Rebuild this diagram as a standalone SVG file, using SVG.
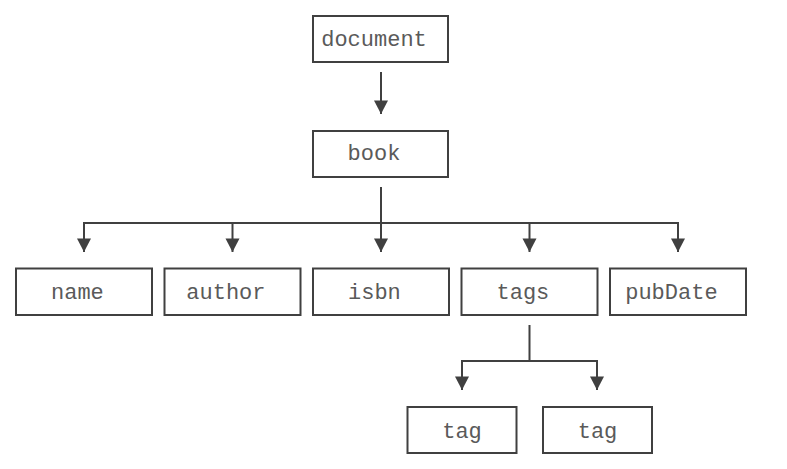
<svg xmlns="http://www.w3.org/2000/svg" width="787" height="469" viewBox="0 0 787 469">
<style>
.box{fill:#fff;stroke:#404040;stroke-width:2}
.lbl{font-family:"Liberation Mono","Courier New",monospace;font-size:22px;fill:#5a5a5a;text-anchor:middle}
.conn{fill:none;stroke:#404040;stroke-width:2}
</style>
<defs>
<marker id="arr" markerUnits="userSpaceOnUse" markerWidth="16" markerHeight="16" refX="13.5" refY="7" orient="auto" overflow="visible">
<path d="M0,0 L13.5,7 L0,14 z" fill="#404040"/>
</marker>
</defs>
<rect width="787" height="469" fill="#fff"/>
<g id="connectors">
<path class="conn" d="M381,72 V114" marker-end="url(#arr)"/>
<path class="conn" d="M381,187 V223 M84,223 H678"/>
<path class="conn" d="M84,222 V252" marker-end="url(#arr)"/>
<path class="conn" d="M232.5,223 V252" marker-end="url(#arr)"/>
<path class="conn" d="M381,223 V252" marker-end="url(#arr)"/>
<path class="conn" d="M529.5,223 V252" marker-end="url(#arr)"/>
<path class="conn" d="M678,222 V252" marker-end="url(#arr)"/>
<path class="conn" d="M529.5,325 V361 M462,361 H597"/>
<path class="conn" d="M462,360 V390" marker-end="url(#arr)"/>
<path class="conn" d="M597,360 V390" marker-end="url(#arr)"/>
</g>
<g id="document"><rect class="box" x="313" y="16" width="135" height="46"/><text class="lbl" x="374" y="45.5">document</text></g>
<g id="book"><rect class="box" x="313" y="131" width="135" height="46"/><text class="lbl" x="374" y="160">book</text></g>
<g id="name"><rect class="box" x="16" y="268.5" width="136" height="46.5"/><text class="lbl" x="77.4" y="298.5">name</text></g>
<g id="author"><rect class="box" x="164.5" y="268.5" width="136" height="46.5"/><text class="lbl" x="225.9" y="298.5">author</text></g>
<g id="isbn"><rect class="box" x="313" y="268.5" width="136" height="46.5"/><text class="lbl" x="374.4" y="298.5">isbn</text></g>
<g id="tags"><rect class="box" x="461.5" y="268.5" width="136" height="46.5"/><text class="lbl" x="522.9" y="298.5">tags</text></g>
<g id="pubDate"><rect class="box" x="610" y="268.5" width="136" height="46.5"/><text class="lbl" x="671.4" y="298.5">pubDate</text></g>
<g id="tag1"><rect class="box" x="407.5" y="407" width="109" height="46"/><text class="lbl" x="462" y="437.5">tag</text></g>
<g id="tag2"><rect class="box" x="543" y="407" width="109" height="46"/><text class="lbl" x="597.5" y="437.5">tag</text></g>
</svg>
